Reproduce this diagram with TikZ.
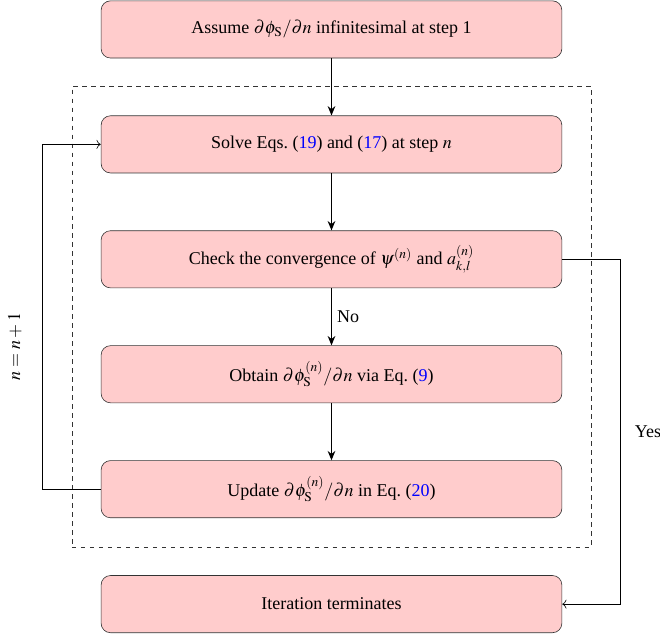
\documentclass[tikz,border=0pt]{standalone}
\usepackage{mathptmx}
\usepackage{fontspec}
\setmainfont{Liberation Serif}
\usetikzlibrary{arrows.meta,positioning,fit}
\definecolor{BoxFill}{RGB}{255,204,204}
\definecolor{EqBlue}{RGB}{0,0,255}
\newcommand{\eqref}[1]{(\textcolor{EqBlue}{#1})}

\begin{document}
\begin{tikzpicture}[
  stepbox/.style={draw=black!80,fill=BoxFill,rounded corners=2.2mm,minimum width=10.8cm,minimum height=1.34cm,align=center,font=\large},
  flow/.style={-{Stealth[length=2.2mm,width=1.8mm]},thick},
  loopline/.style={-{To[length=1mm]},thin},
  node distance=1.34cm]
  \useasboundingbox (0,0) rectangle (15.47,-15.02);
  % main chain
  \node[stepbox] (init) at (7.77,-0.69) {Assume $\partial\phi_\mathrm{S}/\partial n$ infinitesimal at step 1};
  \node[stepbox,below=of init] (solve) {Solve Eqs.\ \eqref{19} and \eqref{17} at step $n$};
  \node[stepbox,below=of solve] (check) {Check the convergence of $\psi^{(n)}$ and $a_{k,l}^{(n)}$};
  \node[stepbox,below=of check] (obtain) {Obtain $\partial\phi_\mathrm{S}^{(n)}/\partial n$ via Eq.\ \eqref{9}};
  \node[stepbox,below=of obtain] (update) {Update $\partial\phi_\mathrm{S}^{(n)}/\partial n$ in Eq.\ \eqref{20}};
  \node[stepbox,below=of update] (done) {Iteration terminates};
  \node[draw=black!80,dashed,fit=(solve)(update),inner xsep=0.68cm,inner ysep=0.68cm] (loopbox) {};
  \draw[flow] (init) -- (solve);
  \draw[flow] (solve) -- (check);
  \draw[flow] (check) -- node[right,font=\large] (nolab) {No} (obtain);
  \draw[flow] (obtain) -- (update);
  % feedback and exit
  \draw[loopline] (update.west) -- ++(-1.36,0) |- (solve.west);
  \node[rotate=90,font=\large] (iterlab) at (0.35,-8.13) {$n=n+1$};
  \draw[loopline] (check.east) -- ++(1.36,0) |- node[pos=0.25,right,xshift=0.22cm,font=\large] (yeslab) {Yes} (done.east);
\end{tikzpicture}
\end{document}
